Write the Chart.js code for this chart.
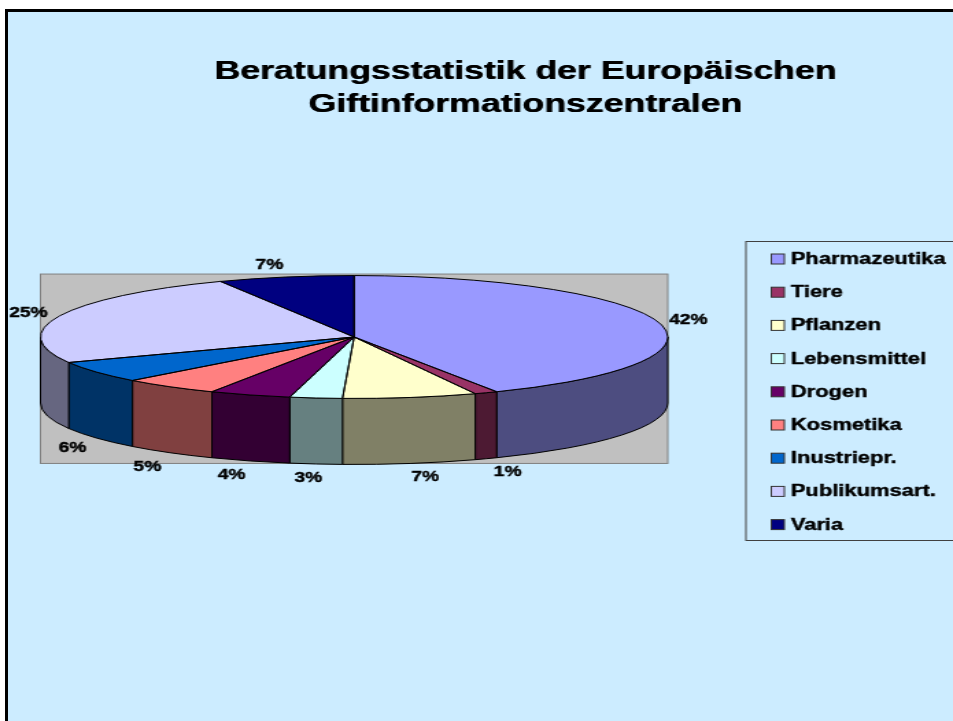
<!DOCTYPE html>
<html lang="de">
<head>
<meta charset="utf-8">
<title>Beratungsstatistik</title>
<script src="https://cdn.jsdelivr.net/npm/chart.js@4"></script>
<style>
  html, body { margin: 0; height: 100%; background: #fff; overflow: hidden; }
  #frame { position: absolute; left: 5px; top: 9px; right: 0; bottom: 0; border-left: 3px solid #000; border-top: 3px solid #000; background: #ccecff; }
  /* the slide is stretched sideways, so the whole canvas is too */
  #chart { position: absolute; left: 0; top: 0; transform-origin: 0 0; transform: scaleX(1.3712); }
</style>
</head>
<body>
<div id="frame"></div>
<canvas id="chart" width="695" height="721"></canvas>
<script>
const titleLines = ["Beratungsstatistik der Europäischen", "Giftinformationszentralen"];
const categories = ["Pharmazeutika", "Tiere", "Pflanzen", "Lebensmittel", "Drogen", "Kosmetika", "Inustriepr.", "Publikumsart.", "Varia"];
const shares = [42.49, 1.2, 6.9, 2.7, 4.2, 5, 5.7, 24.8, 7.01];
const colors = ["#9999ff", "#993366", "#ffffcc", "#ccffff", "#660066", "#ff8080", "#0066cc", "#ccccff", "#000080"];

const fontFamily = "'Liberation Sans', Arial, sans-serif";
const squash = 0.2686; // height/width of the top ellipse
const depth = 66; // wall height
// hand nudges for the percent labels
const labelShiftX = [0, 6.5, 7, -3, -6, -3.5, 0.5, -2, -7];
const labelShiftY = [1, 1, 0, 1, 1, 3, 2, 2, 1];

function darker(hex) {
  const n = parseInt(hex.slice(1), 16);
  const half = v => Math.round(v / 2);
  return `rgb(${half(n >> 16)}, ${half((n >> 8) & 255)}, ${half(n & 255)})`;
}

function boldText(ctx, text, x, y) {
  ctx.fillText(text, x, y);
  ctx.strokeText(text, x, y);
}

const pie3d = {
  id: "pie3d",
  afterLayout(chart) {
    // pie size is fixed by the plot box, not by what the title leaves over
    const area = { left: 29.5, right: 487, top: 108, bottom: 566 };
    area.width = area.right - area.left;
    area.height = area.bottom - area.top;
    chart.chartArea = area;
    chart.titleBlock.left = 0;
    chart.titleBlock.right = 766;
  },
  beforeDraw(chart) {
    // makes the title a bit heavier, it draws right after this
    const ctx = chart.ctx;
    ctx.save();
    ctx.shadowColor = "#000";
    ctx.shadowOffsetX = 0.5;
  },
  beforeDatasetsDraw(chart) {
    const ctx = chart.ctx;
    ctx.restore();
    const arcs = chart.getDatasetMeta(0).data;
    const { x: cx, y: cy, outerRadius: r } = arcs[0];
    const ry = r * squash;

    // grey plot box
    ctx.save();
    ctx.fillStyle = "#c0c0c0";
    ctx.strokeStyle = "#808080";
    ctx.lineWidth = 1;
    ctx.fillRect(cx - r, cy - ry - 1.5, 2 * r, 2 * ry + depth + 0.5);
    ctx.strokeRect(cx - r, cy - ry - 1.5, 2 * r, 2 * ry + depth + 0.5);

    // walls, front half only
    ctx.strokeStyle = "#000";
    arcs.forEach((arc, i) => {
      const a = Math.max(arc.startAngle, 0);
      const b = Math.min(arc.endAngle, Math.PI);
      if (b <= a) return;
      ctx.beginPath();
      ctx.ellipse(cx, cy, r, ry, 0, a, b);
      ctx.ellipse(cx, cy + depth, r, ry, 0, b, a, true);
      ctx.closePath();
      ctx.fillStyle = darker(colors[i]);
      ctx.fill();
      ctx.stroke();
    });
    ctx.restore();

    // flatten the pie itself
    ctx.save();
    ctx.translate(0, cy);
    ctx.scale(1, squash);
    ctx.translate(0, -cy);
  },
  afterDatasetsDraw(chart) {
    const ctx = chart.ctx;
    ctx.restore();
    const arcs = chart.getDatasetMeta(0).data;
    const { x: cx, y: cy, outerRadius: r } = arcs[0];

    // outlines are stroked unscaled so they stay even
    ctx.save();
    ctx.strokeStyle = "#000";
    ctx.lineWidth = 1;
    arcs.forEach(arc => {
      ctx.save();
      ctx.translate(cx, cy);
      ctx.scale(1, squash);
      ctx.beginPath();
      ctx.moveTo(0, 0);
      ctx.arc(0, 0, r, arc.startAngle, arc.endAngle);
      ctx.closePath();
      ctx.restore();
      ctx.stroke();
    });

    // percent labels
    ctx.fillStyle = "#000";
    ctx.lineWidth = 0.4;
    ctx.font = `bold 14px ${fontFamily}`;
    ctx.textAlign = "center";
    ctx.textBaseline = "middle";
    arcs.forEach((arc, i) => {
      const mid = (arc.startAngle + arc.endAngle) / 2;
      const x = cx + (r + 22) * Math.cos(mid) + labelShiftX[i];
      let y = cy + 75 * Math.sin(mid) + labelShiftY[i];
      if (Math.sin(mid) > 0) y += depth;
      boldText(ctx, Math.round(shares[i]) + "%", x, y);
    });

    // legend box runs off the right edge like in the slide
    ctx.lineWidth = 1;
    ctx.strokeStyle = "#404040";
    ctx.strokeRect(544, 241.5, 200, 299);
    ctx.font = `bold 16px ${fontFamily}`;
    ctx.textAlign = "left";
    categories.forEach((name, i) => {
      const y = 259 + i * 33.2;
      ctx.lineWidth = 1;
      ctx.fillStyle = colors[i];
      ctx.fillRect(562.5, y - 5, 9.5, 10);
      ctx.strokeStyle = "#333";
      ctx.strokeRect(562.5, y - 5, 9.5, 10);
      ctx.fillStyle = "#000";
      ctx.strokeStyle = "#000";
      ctx.lineWidth = 0.4;
      boldText(ctx, name, 576.7, y + 0.5);
    });
    ctx.restore();
  }
};

new Chart(document.getElementById("chart"), {
  type: "pie",
  data: {
    labels: categories,
    datasets: [{
      data: shares,
      backgroundColor: colors,
      borderWidth: 0,
      hoverOffset: 0,
      clip: false
    }]
  },
  options: {
    responsive: false,
    animation: false,
    devicePixelRatio: 1,
    events: [],
    plugins: {
      legend: { display: false },
      tooltip: { enabled: false },
      title: {
        display: true,
        text: titleLines,
        color: "#000",
        padding: { top: 54.5, bottom: 0 },
        font: { family: fontFamily, size: 26, weight: "bold", lineHeight: 1.3 }
      }
    }
  },
  plugins: [pie3d]
});
</script>
</body>
</html>
